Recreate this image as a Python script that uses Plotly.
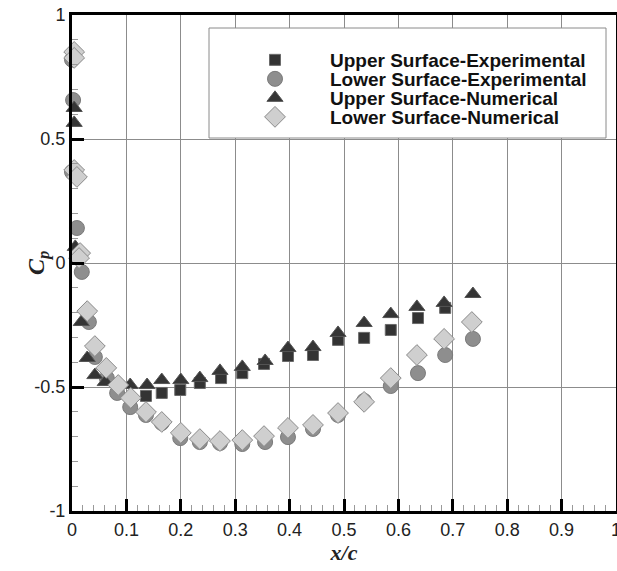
import plotly.graph_objects as go

# Upper Surface-Experimental
ue_x = [0.136, 0.165, 0.199, 0.235, 0.274, 0.313, 0.353, 0.397, 0.443, 0.489, 0.537, 0.586, 0.636, 0.686]
ue_cp = [-0.536, -0.524, -0.512, -0.484, -0.464, -0.444, -0.407, -0.375, -0.371, -0.310, -0.302, -0.270, -0.222, -0.181]

# Lower Surface-Experimental
le_x = [0.0, 0.002, 0.0, 0.009, 0.018, 0.031, 0.042, 0.064, 0.083, 0.107, 0.136, 0.165, 0.199, 0.235,
        0.272, 0.313, 0.355, 0.397, 0.443, 0.489, 0.537, 0.586, 0.636, 0.686, 0.737]
le_cp = [0.82, 0.657, 0.367, 0.141, -0.036, -0.238, -0.379, -0.464, -0.524, -0.581, -0.613, -0.645, -0.706,
         -0.722, -0.726, -0.730, -0.722, -0.702, -0.669, -0.613, -0.556, -0.496, -0.444, -0.371, -0.306]

# Upper Surface-Numerical
un_x = [0.004, 0.004, 0.006, 0.017, 0.028, 0.042, 0.061, 0.107, 0.138, 0.165, 0.200, 0.235, 0.272,
        0.313, 0.355, 0.397, 0.443, 0.489, 0.537, 0.586, 0.634, 0.684, 0.737]
un_cp = [0.625, 0.565, 0.065, -0.238, -0.383, -0.452, -0.480, -0.492, -0.492, -0.472, -0.472, -0.464,
         -0.435, -0.419, -0.395, -0.343, -0.339, -0.282, -0.242, -0.206, -0.177, -0.161, -0.125]

# Lower Surface-Numerical
ln_x = [0.004, 0.004, 0.004, 0.009, 0.015, 0.013, 0.028, 0.042, 0.063, 0.085, 0.108, 0.136, 0.165,
        0.200, 0.235, 0.272, 0.313, 0.353, 0.397, 0.443, 0.489, 0.537, 0.586, 0.634, 0.684, 0.735]
ln_cp = [0.851, 0.827, 0.375, 0.347, 0.040, 0.020, -0.194, -0.335, -0.423, -0.492, -0.544, -0.601, -0.641,
         -0.685, -0.710, -0.718, -0.714, -0.698, -0.665, -0.653, -0.605, -0.560, -0.464, -0.371, -0.306, -0.238]

series_names = ["Upper Surface-Experimental", "Lower Surface-Experimental",
                "Upper Surface-Numerical", "Lower Surface-Numerical"]

x_ticks = [0, 0.1, 0.2, 0.3, 0.4, 0.5, 0.6, 0.7, 0.8, 0.9, 1]
x_tick_text = ["0", "0.1", "0.2", "0.3", "0.4", "0.5", "0.6", "0.7", "0.8", "0.9", "1"]
y_ticks = [-1, -0.5, 0, 0.5, 1]
y_tick_text = ["-1", "-0.5", "0", "0.5", "1"]

fig = go.Figure()

styles = [
    dict(symbol="square", size=11, color="#333333", line=dict(color="#6a6a6a", width=1)),
    dict(symbol="circle", size=15, color="#8e8e8e", line=dict(color="#7a7a7a", width=1)),
    dict(symbol="triangle-up", size=14, color="#353535", line=dict(color="#555555", width=1)),
    dict(symbol="diamond", size=16, color="#cfcfcf", line=dict(color="#8a8a8a", width=1)),
]
data = [(ue_x, ue_cp), (le_x, le_cp), (un_x, un_cp), (ln_x, ln_cp)]
legends = ["legend", "legend2", "legend3", "legend4"]

for (xs, ys), name, st, lg in zip(data, series_names, styles, legends):
    fig.add_trace(go.Scatter(x=xs, y=ys, mode="markers", name=name, marker=st,
                             legend=lg, showlegend=True, cliponaxis=False))

# plot area: x 72..616 px, y 15..511 px
row_py = [60, 79, 98, 117]
leg_common = dict(bgcolor="rgba(0,0,0,0)", borderwidth=0, xanchor="left", yanchor="middle",
                  itemwidth=100,
                  font=dict(family="Liberation Sans, Arial", size=19, color="#111111", weight="bold"),
                  itemclick=False, itemdoubleclick=False)
leg_x = (220 - 72) / 544
for lg, py in zip(legends, row_py):
    fig.update_layout(**{lg: dict(x=leg_x, y=(511 - py) / 496, **leg_common)})

fig.add_shape(type="rect", xref="x", yref="y", x0=(209 - 72) / 544, x1=(606 - 72) / 544,
              y0=(263 - 138) / 248, y1=(263 - 28) / 248,
              line=dict(color="#8a8a8a", width=1), fillcolor="white", layer="between")

axis_common = dict(showline=True, linecolor="black", linewidth=3, mirror=True,
                   ticks="inside", ticklen=12, tickwidth=3, tickcolor="black",
                   showgrid=True, gridcolor="#8c8c8c", gridwidth=1, zeroline=False,
                   ticklabeloverflow="allow", automargin=False,
                   tickfont=dict(family="Liberation Sans, Arial", size=18, color="#222222"))

fig.update_xaxes(range=[0, 1], tickvals=x_ticks, ticktext=x_tick_text,
                 minor=dict(ticks="inside", ticklen=6, dtick=0.02, tickcolor="#9a9a9a", tickwidth=1, showgrid=False),
                 title=dict(text="<b><i>x/c</i></b>", font=dict(family="Liberation Serif, Times New Roman", size=22, color="#222"),
                            standoff=4),
                 **axis_common)
fig.update_yaxes(range=[-1, 1], tickvals=y_ticks, ticktext=y_tick_text,
                 minor=dict(ticks="inside", ticklen=6, dtick=0.1, tickcolor="#9a9a9a", tickwidth=1, showgrid=False),
                 **axis_common)

fig.add_annotation(text="<b><i>C<sub>p</sub></i></b>", xref="paper", yref="paper",
                   x=(38 - 72) / 544, y=0.5, xanchor="center", yanchor="middle",
                   textangle=-90, showarrow=False,
                   font=dict(family="Liberation Serif, Times New Roman", size=24, color="#222"))

fig.update_layout(width=617, height=571, margin=dict(l=72, r=1, t=15, b=60, autoexpand=False),
                  plot_bgcolor="white", paper_bgcolor="white")

fig.write_html("out.html")
